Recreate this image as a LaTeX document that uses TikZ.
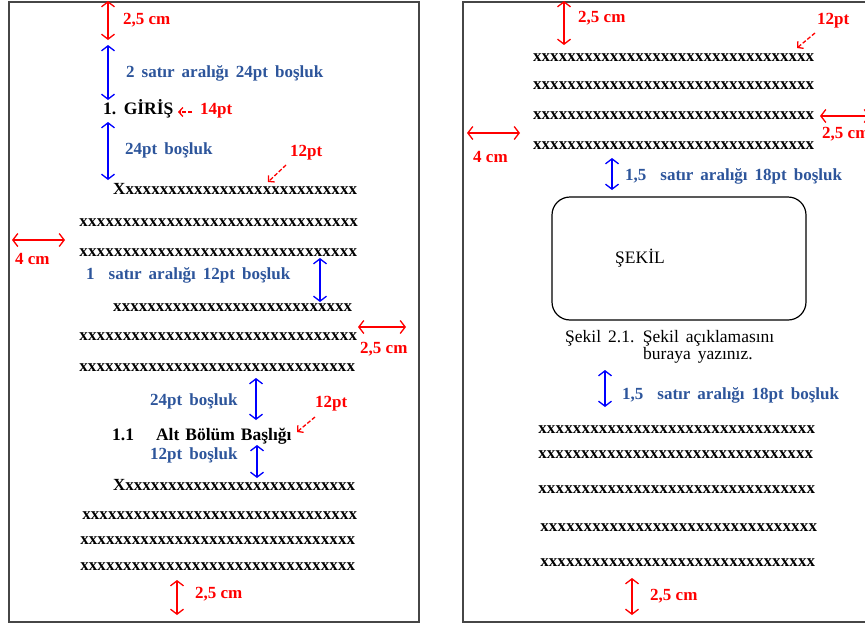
\documentclass[tikz,border=0pt]{standalone}
\usepackage{fontspec}
\setmainfont{Liberation Serif}
\usetikzlibrary{arrows.meta}
\definecolor{lblue}{RGB}{45,85,155}
\definecolor{framec}{RGB}{70,70,70}
\newcommand\xfill[2]{\hbox to #2pt{#1\xleaders\hbox{x}\hfill}}
\newcommand\wsA{\spaceskip=7pt plus 1pt\relax}
\newcommand\wsB{\spaceskip=6pt plus 1pt\relax}
\tikzset{
  pg/.style={draw=framec, line width=2.5pt},
  fnt/.style={font=\bfseries\fontsize{17}{20}\selectfont},
  redlbl/.style={fnt, text=red, inner sep=0pt, anchor=mid west},
  bluelbl/.style={font=\bfseries\fontsize{17}{20}\selectfont\wsA, text=lblue, inner sep=0pt, anchor=mid west},
  headlbl/.style={font=\bfseries\fontsize{17.5}{20}\selectfont\wsB, text=black, inner sep=0pt, anchor=mid west},
  caplbl/.style={font=\fontsize{17.5}{20}\selectfont\wsA, inner sep=0pt, anchor=mid west},
  xline/.style={fnt, inner sep=0pt, anchor=west},
  barb/.tip={Straight Barb[length=5pt,width=13pt]},
  dimr/.style={draw=red, line width=1.3pt, barb-barb},
  dimb/.style={draw=blue, line width=1.3pt, barb-barb},
  ptr/.style={draw=red, line width=1.3pt, dash pattern=on 4pt off 2pt, -{Straight Barb[length=4pt,width=9pt]}},
  figbox/.style={draw=black, line width=1.2pt, rounded corners=18pt},
}
\begin{document}
\begin{tikzpicture}[x=1pt,y=-1pt]
\useasboundingbox (0,0) rectangle (865,624);
% pages
\draw[pg] (9,2) rectangle (419,622);
\draw[pg] (463,2) rectangle (900,622);

% ---------------- left page ----------------
\coordinate (la1) at (108,1);  \coordinate (lb1) at (108,40);
\draw[dimr] (la1) -- (lb1);
\node[redlbl] (l25top) at (123,22) {2,5 cm};
\coordinate (la2) at (108,45); \coordinate (lb2) at (108,100);
\draw[dimb] (la2) -- (lb2);
\node[bluelbl] (l2satir) at (126,75) {2 satır aralığı 24pt boşluk};
\node[headlbl] (giris) at (103,112) {1. GİRİŞ};
\node[redlbl] (l14) at (200,112) {14pt};
\coordinate (p14a) at (192,112); \coordinate (p14b) at (178,112);
\draw[ptr] (p14a) -- (p14b);
\coordinate (la3) at (108,122); \coordinate (lb3) at (108,180);
\draw[dimb] (la3) -- (lb3);
\node[bluelbl] (l24a) at (125,152) {24pt boşluk};
\node[redlbl] (l12a) at (290,154) {12pt};
\coordinate (p12a) at (286,165); \coordinate (p12b) at (268,182);
\draw[ptr] (p12a) -- (p12b);

\node[xline] (x1) at (113,189) {\xfill{X}{244}};
\node[xline] (x2) at (79,223) {\xfill{}{279}};
\node[xline] (x3) at (79,253) {\xfill{}{278}};
\coordinate (l4a) at (12,240); \coordinate (l4b) at (65,240);
\draw[dimr] (l4a) -- (l4b);
\node[redlbl] (l4cm) at (15,262) {4 cm};
\node[bluelbl] (l1satir) at (86,277) {1\ \ satır aralığı 12pt boşluk};
\coordinate (la4) at (320,258); \coordinate (lb4) at (320,302);
\draw[dimb] (la4) -- (lb4);
\node[xline] (x4) at (113,308) {\xfill{}{239}};
\node[xline] (x5) at (79,337) {\xfill{}{278}};
\coordinate (lr1) at (358,327); \coordinate (lr2) at (406,327);
\draw[dimr] (lr1) -- (lr2);
\node[redlbl] (l25r) at (360,351) {2,5 cm};
\node[xline] (x6) at (79,368) {\xfill{}{276}};
\node[bluelbl] (l24b) at (150,403) {24pt boşluk};
\coordinate (la5) at (256,378); \coordinate (lb5) at (256,420);
\draw[dimb] (la5) -- (lb5);
\node[redlbl] (l12b) at (315,405) {12pt};
\coordinate (p12c) at (315,417); \coordinate (p12d) at (297,432);
\draw[ptr] (p12c) -- (p12d);
\node[headlbl] (altb) at (112,438) {1.1\hspace{22pt}Alt Bölüm Başlığı};
\node[bluelbl] (l12c) at (150,457) {12pt boşluk};
\coordinate (la6) at (257,445); \coordinate (lb6) at (257,478);
\draw[dimb] (la6) -- (lb6);
\node[xline] (x7) at (113,485) {\xfill{X}{242}};
\node[xline] (x8) at (82,516) {\xfill{}{275}};
\node[xline] (x9) at (80,541) {\xfill{}{275}};
\node[xline] (x10) at (80,567) {\xfill{}{275}};
\coordinate (la7) at (177,580); \coordinate (lb7) at (177,615);
\draw[dimr] (la7) -- (lb7);
\node[redlbl] (l25b) at (195,596) {2,5 cm};

% ---------------- right page ----------------
\coordinate (ra1) at (564,1); \coordinate (rb1) at (564,45);
\draw[dimr] (ra1) -- (rb1);
\node[redlbl] (r25top) at (578,20) {2,5 cm};
\node[redlbl] (r12) at (817,22) {12pt};
\coordinate (rp1) at (815,33); \coordinate (rp2) at (797,48);
\draw[ptr] (rp1) -- (rp2);
\node[xline] (y1) at (533,58) {\xfill{}{281}};
\node[xline] (y2) at (533,86) {\xfill{}{281}};
\node[xline] (y3) at (533,116) {\xfill{}{281}};
\node[xline] (y4) at (533,146) {\xfill{}{281}};
\coordinate (rr1) at (820,116); \coordinate (rr2) at (870,116);
\draw[dimr] (rr1) -- (rr2);
\node[redlbl] (r25r) at (822,136) {2,5 cm};
\coordinate (rl1) at (467,133); \coordinate (rl2) at (520,133);
\draw[dimr] (rl1) -- (rl2);
\node[redlbl] (r4cm) at (473,160) {4 cm};
\coordinate (ra2) at (612,158); \coordinate (rb2) at (612,190);
\draw[dimb] (ra2) -- (rb2);
\node[bluelbl] (r15a) at (625,178) {1,5\ \ satır aralığı 18pt boşluk};
\draw[figbox] (552,197) rectangle (806,320);
\node[caplbl, anchor=center] (sekil) at (640,258) {ŞEKİL};
\node[caplbl] (cap1) at (565,340) {Şekil 2.1. Şekil açıklamasını};
\node[caplbl] (cap2) at (643,357) {buraya yazınız.};
\coordinate (ra3) at (605,370); \coordinate (rb3) at (605,407);
\draw[dimb] (ra3) -- (rb3);
\node[bluelbl] (r15b) at (622,397) {1,5\ \ satır aralığı 18pt boşluk};
\node[xline] (y5) at (538,430) {\xfill{}{277}};
\node[xline] (y6) at (538,455) {\xfill{}{275}};
\node[xline] (y7) at (538,490) {\xfill{}{277}};
\node[xline] (y8) at (540,528) {\xfill{}{277}};
\node[xline] (y9) at (540,563) {\xfill{}{275}};
\coordinate (ra4) at (632,578); \coordinate (rb4) at (632,615);
\draw[dimr] (ra4) -- (rb4);
\node[redlbl] (r25b) at (650,598) {2,5 cm};
\end{tikzpicture}
\end{document}
